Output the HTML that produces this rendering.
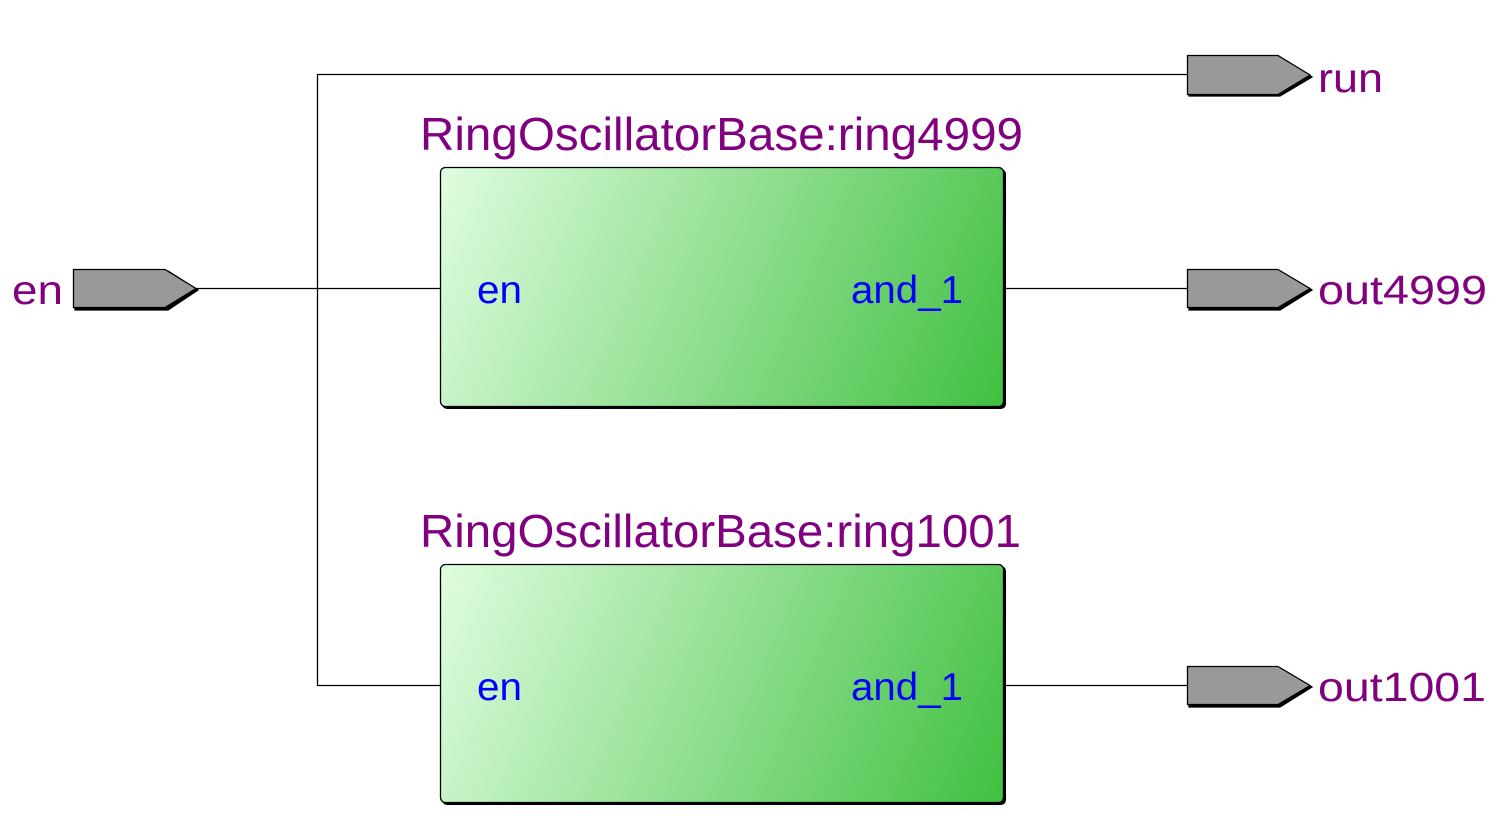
<!DOCTYPE html>
<html><head><meta charset="utf-8"><style>html,body{margin:0;padding:0;background:#fff;}svg{display:block}</style></head>
<body>
<svg width="1508" height="818" viewBox="0 0 1508 818" xmlns="http://www.w3.org/2000/svg" font-family="Liberation Sans, sans-serif">
<defs>
<linearGradient id="g1" gradientUnits="userSpaceOnUse" x1="440" y1="167" x2="1004" y2="407">
<stop offset="0" stop-color="#e0fde0"/>
<stop offset="1" stop-color="#40c040"/>
</linearGradient>
<linearGradient id="g2" gradientUnits="userSpaceOnUse" x1="440" y1="564" x2="1004" y2="803">
<stop offset="0" stop-color="#e0fde0"/>
<stop offset="1" stop-color="#40c040"/>
</linearGradient>
</defs>
<g stroke="#000" stroke-width="1.3" fill="none">
<line x1="196" y1="288.5" x2="440" y2="288.5"/>
<line x1="317.5" y1="74.5" x2="317.5" y2="685.5"/>
<line x1="317" y1="74.5" x2="1187" y2="74.5"/>
<line x1="317" y1="685.5" x2="440" y2="685.5"/>
<line x1="1004" y1="288.5" x2="1187" y2="288.5"/>
<line x1="1004" y1="685.5" x2="1187" y2="685.5"/>
</g>
<g stroke="#000" stroke-width="1.3">
<path d="M75 271 H168 L198 290 L168 310 H75 Z" fill="#000"/>
<path d="M73.5 269.5 H165 L196 288.5 L165 307.5 H73.5 Z" fill="#999"/>
<path d="M1189 57 H1280 L1312 77 L1280 96 H1189 Z" fill="#000"/>
<path d="M1187.5 55.5 H1278 L1310 75 L1278 94.5 H1187.5 Z" fill="#999"/>
<path d="M1189 271 H1280 L1312 290 L1280 310 H1189 Z" fill="#000"/>
<path d="M1187.5 269.5 H1278 L1310 288.5 L1278 307.5 H1187.5 Z" fill="#999"/>
<path d="M1189 668 H1280 L1312 687 L1280 707 H1189 Z" fill="#000"/>
<path d="M1187.5 666.5 H1278 L1310 685.5 L1278 704.5 H1187.5 Z" fill="#999"/>
</g>
<rect x="442" y="169" width="564" height="240" rx="5" fill="#000"/>
<rect x="440.5" y="167.5" width="563" height="239" rx="5" fill="url(#g1)" stroke="#000" stroke-width="1.3"/>
<rect x="442" y="566" width="564" height="239" rx="5" fill="#000"/>
<rect x="440.5" y="564.5" width="563" height="238" rx="5" fill="url(#g2)" stroke="#000" stroke-width="1.3"/>
<g fill="#800080">
<text x="12" y="304" font-size="41" textLength="51" lengthAdjust="spacingAndGlyphs">en</text>
<text x="1318" y="92" font-size="41" textLength="65" lengthAdjust="spacingAndGlyphs">run</text>
<text x="1318" y="304" font-size="41" textLength="169" lengthAdjust="spacingAndGlyphs">out4999</text>
<text x="1318" y="701" font-size="41" textLength="168" lengthAdjust="spacingAndGlyphs">out1001</text>
<text x="420" y="150" font-size="46" textLength="603" lengthAdjust="spacingAndGlyphs">RingOscillatorBase:ring4999</text>
<text x="420" y="547" font-size="46" textLength="601" lengthAdjust="spacingAndGlyphs">RingOscillatorBase:ring1001</text>
</g>
<g fill="#0000ff" font-size="39">
<text x="477" y="303" textLength="45" lengthAdjust="spacingAndGlyphs">en</text>
<text x="851" y="303" textLength="112" lengthAdjust="spacingAndGlyphs">and_1</text>
<text x="477" y="700" textLength="45" lengthAdjust="spacingAndGlyphs">en</text>
<text x="851" y="700" textLength="112" lengthAdjust="spacingAndGlyphs">and_1</text>
</g>
</svg>
</body></html>
